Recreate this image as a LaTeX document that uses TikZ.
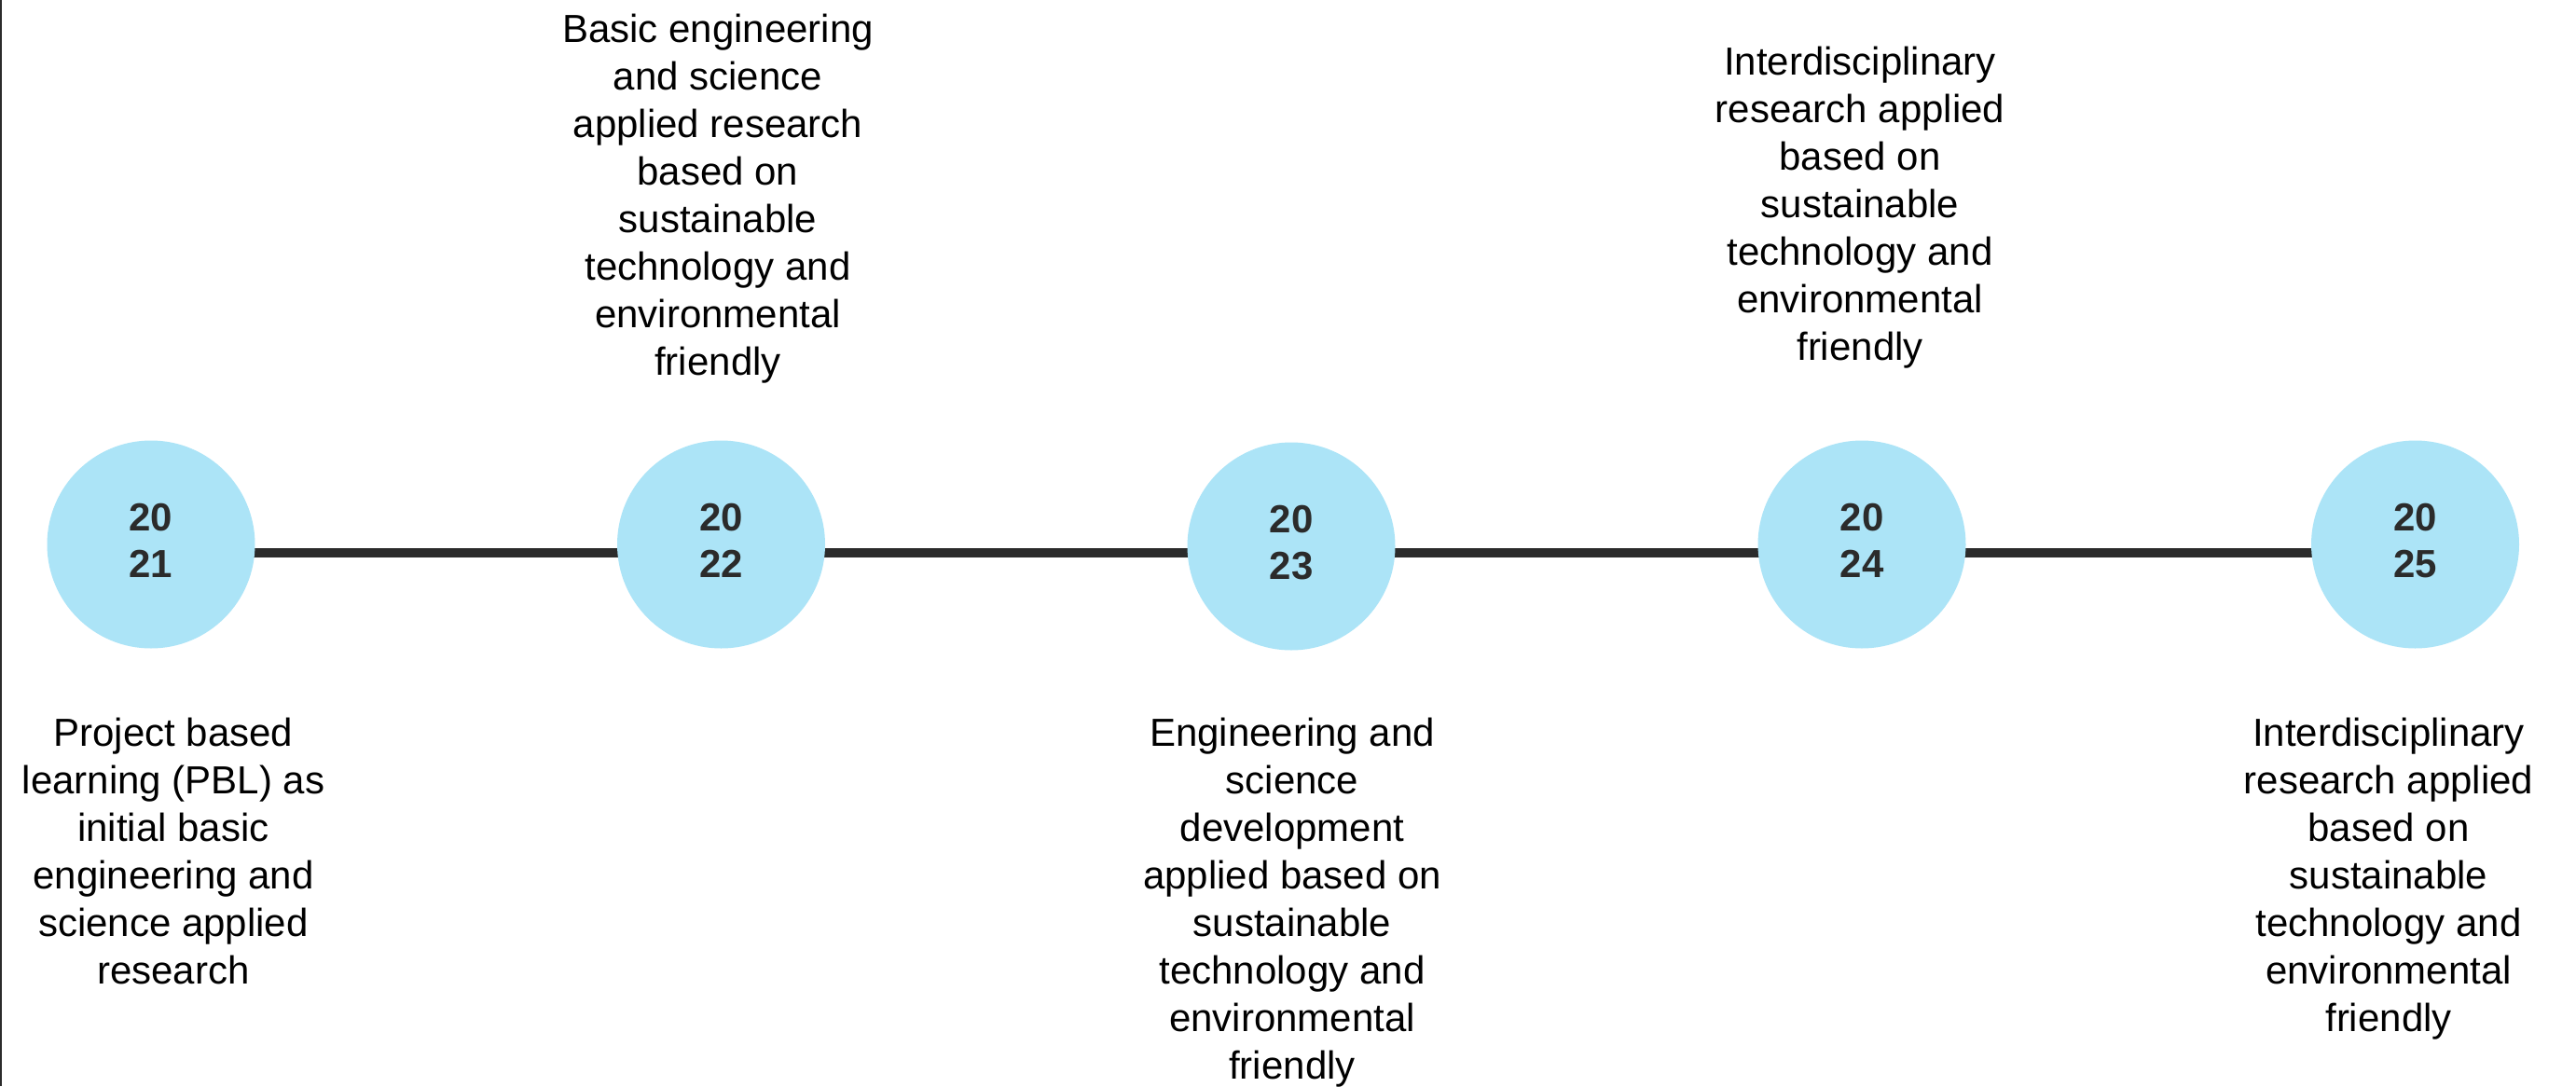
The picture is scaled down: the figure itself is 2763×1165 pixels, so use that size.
\documentclass[tikz,border=0pt]{standalone}
\usepackage{fontspec}
\setmainfont{Liberation Sans}
\usetikzlibrary{backgrounds}
\definecolor{dot}{RGB}{172,228,247}
\definecolor{ink}{RGB}{43,43,43}
\tikzset{
  yearcircle/.style={circle, fill=dot, draw=none, minimum size=223pt, inner sep=0pt,
    text=ink, font=\fontsize{42}{50}\selectfont\bfseries},
  conn/.style={draw=ink, line width=10pt},
  desc/.style={anchor=base, inner sep=0pt, text=black, font=\fontsize{42}{51}\selectfont},
  frame/.style={draw=ink, line width=2.5pt}
}
\newcommand{\yr}[2]{\begin{tabular}{@{}c@{}}#1\\#2\end{tabular}}
\begin{document}
\begin{tikzpicture}[x=1pt,y=-1pt]
\useasboundingbox (0,0) rectangle (2763,1165);
\coordinate (ftop) at (1.2,0);
\coordinate (fbot) at (1.2,1165);
\draw[frame] (ftop) -- (fbot);

\node[yearcircle] (c1) at (162,584) {\yr{20}{21}};
\node[yearcircle] (c2) at (773.5,584) {\yr{20}{22}};
\node[yearcircle] (c3) at (1385,586) {\yr{20}{23}};
\node[yearcircle] (c4) at (1997,584) {\yr{20}{24}};
\node[yearcircle] (c5) at (2590.5,584) {\yr{20}{25}};

\begin{scope}[on background layer]
\fill[white] (0,0) rectangle (2763,1165);
\draw[conn] ([yshift=-9pt]c1.center) -- ([yshift=-9pt]c2.center);
\draw[conn] ([yshift=-9pt]c2.center) -- ([yshift=-7pt]c3.center);
\draw[conn] ([yshift=-7pt]c3.center) -- ([yshift=-9pt]c4.center);
\draw[conn] ([yshift=-9pt]c4.center) -- ([yshift=-9pt]c5.center);
\end{scope}

\node[desc] (t1) at (186,800) {\begin{tabular}[t]{@{}c@{}}Project based\\learning (PBL) as\\initial basic\\engineering and\\science applied\\research\end{tabular}};
\node[desc] (t2) at (770,45) {\begin{tabular}[t]{@{}c@{}}Basic engineering\\and science\\applied research\\based on\\sustainable\\technology and\\environmental\\friendly\end{tabular}};
\node[desc] (t3) at (1386,800) {\begin{tabular}[t]{@{}c@{}}Engineering and\\science\\development\\applied based on\\sustainable\\technology and\\environmental\\friendly\end{tabular}};
\node[desc] (t4) at (1995,80) {\begin{tabular}[t]{@{}c@{}}Interdisciplinary\\research applied\\based on\\sustainable\\technology and\\environmental\\friendly\end{tabular}};
\node[desc] (t5) at (2562,800) {\begin{tabular}[t]{@{}c@{}}Interdisciplinary\\research applied\\based on\\sustainable\\technology and\\environmental\\friendly\end{tabular}};
\end{tikzpicture}
\end{document}
